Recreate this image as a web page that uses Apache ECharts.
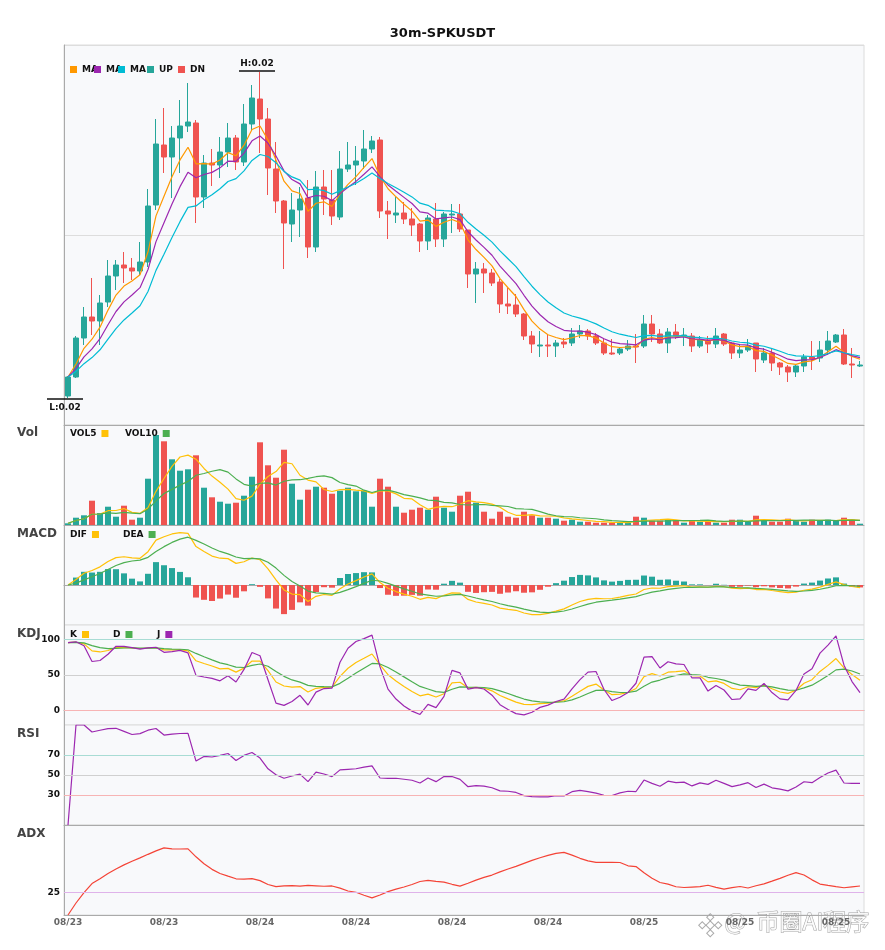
<!DOCTYPE html>
<html>
<head>
<meta charset="utf-8">
<script src="https://cdn.jsdelivr.net/npm/echarts@6.0.0/dist/echarts.min.js"></script>
<style>
  html, body { margin: 0; padding: 0; background: #fff; }
  #chart { width: 885px; height: 950px; }
</style>
</head>
<body>
<div id="chart"></div>
<script>
// 30m candles, 08/23 12:00 -> 08/25 13:30
const times = [
  '08/23 12:00','08/23 12:30','08/23 13:00','08/23 13:30','08/23 14:00','08/23 14:30','08/23 15:00','08/23 15:30',
  '08/23 16:00','08/23 16:30','08/23 17:00','08/23 17:30','08/23 18:00','08/23 18:30','08/23 19:00','08/23 19:30',
  '08/23 20:00','08/23 20:30','08/23 21:00','08/23 21:30','08/23 22:00','08/23 22:30','08/23 23:00','08/23 23:30',
  '08/24 00:00','08/24 00:30','08/24 01:00','08/24 01:30','08/24 02:00','08/24 02:30','08/24 03:00','08/24 03:30',
  '08/24 04:00','08/24 04:30','08/24 05:00','08/24 05:30','08/24 06:00','08/24 06:30','08/24 07:00','08/24 07:30',
  '08/24 08:00','08/24 08:30','08/24 09:00','08/24 09:30','08/24 10:00','08/24 10:30','08/24 11:00','08/24 11:30',
  '08/24 12:00','08/24 12:30','08/24 13:00','08/24 13:30','08/24 14:00','08/24 14:30','08/24 15:00','08/24 15:30',
  '08/24 16:00','08/24 16:30','08/24 17:00','08/24 17:30','08/24 18:00','08/24 18:30','08/24 19:00','08/24 19:30',
  '08/24 20:00','08/24 20:30','08/24 21:00','08/24 21:30','08/24 22:00','08/24 22:30','08/24 23:00','08/24 23:30',
  '08/25 00:00','08/25 00:30','08/25 01:00','08/25 01:30','08/25 02:00','08/25 02:30','08/25 03:00','08/25 03:30',
  '08/25 04:00','08/25 04:30','08/25 05:00','08/25 05:30','08/25 06:00','08/25 06:30','08/25 07:00','08/25 07:30',
  '08/25 08:00','08/25 08:30','08/25 09:00','08/25 09:30','08/25 10:00','08/25 10:30','08/25 11:00','08/25 11:30',
  '08/25 12:00','08/25 12:30','08/25 13:00','08/25 13:30'
];

const opens = [
  0.01739,0.01758,0.01797,0.01818,0.01814,0.01833,0.01859,0.01870,0.01867,0.01864,
  0.01873,0.01930,0.01990,0.01978,0.01997,0.02009,0.02012,0.01938,0.01972,0.01970,
  0.01983,0.01997,0.01973,0.02011,0.02036,0.02016,0.01966,0.01934,0.01911,0.01925,
  0.01937,0.01888,0.01948,0.01935,0.01918,0.01966,0.01970,0.01974,0.01986,0.01995,
  0.01924,0.01920,0.01922,0.01916,0.01911,0.01894,0.01916,0.01896,0.01920,0.01921,
  0.01905,0.01861,0.01866,0.01862,0.01853,0.01831,0.01830,0.01821,0.01799,0.01789,
  0.01790,0.01789,0.01793,0.01792,0.01801,0.01804,0.01799,0.01792,0.01782,0.01782,
  0.01786,0.01789,0.01789,0.01811,0.01801,0.01792,0.01803,0.01799,0.01799,0.01789,
  0.01795,0.01791,0.01801,0.01792,0.01782,0.01785,0.01792,0.01775,0.01782,0.01772,
  0.01768,0.01763,0.01769,0.01778,0.01777,0.01785,0.01793,0.01800,0.01771,0.01769
];
const closes = [
  0.01758,0.01797,0.01818,0.01814,0.01832,0.01859,0.01870,0.01867,0.01864,0.01873,
  0.01929,0.01991,0.01978,0.01997,0.02009,0.02013,0.01938,0.01972,0.01970,0.01983,
  0.01997,0.01973,0.02011,0.02037,0.02016,0.01967,0.01934,0.01912,0.01925,0.01936,
  0.01888,0.01948,0.01936,0.01919,0.01966,0.01970,0.01974,0.01986,0.01994,0.01924,
  0.01921,0.01922,0.01916,0.01910,0.01894,0.01917,0.01896,0.01921,0.01921,0.01906,
  0.01861,0.01866,0.01862,0.01852,0.01831,0.01829,0.01821,0.01799,0.01791,0.01790,
  0.01789,0.01792,0.01791,0.01801,0.01804,0.01799,0.01792,0.01782,0.01781,0.01786,
  0.01789,0.01788,0.01811,0.01801,0.01792,0.01803,0.01799,0.01800,0.01789,0.01795,
  0.01791,0.01799,0.01791,0.01782,0.01785,0.01789,0.01776,0.01782,0.01772,0.01768,
  0.01763,0.01769,0.01778,0.01776,0.01785,0.01794,0.01800,0.01771,0.01770,0.01770
];
const lows = [
  0.01737,0.01757,0.01790,0.01800,0.01790,0.01828,0.01845,0.01852,0.01855,0.01860,
  0.01868,0.01925,0.01962,0.01937,0.01962,0.02003,0.01912,0.01927,0.01949,0.01957,
  0.01968,0.01965,0.01969,0.02005,0.01982,0.01940,0.01922,0.01866,0.01893,0.01898,
  0.01877,0.01883,0.01920,0.01910,0.01915,0.01963,0.01950,0.01966,0.01982,0.01917,
  0.01896,0.01912,0.01911,0.01899,0.01883,0.01885,0.01888,0.01888,0.01902,0.01903,
  0.01847,0.01832,0.01842,0.01849,0.01822,0.01821,0.01818,0.01795,0.01782,0.01778,
  0.01778,0.01778,0.01787,0.01789,0.01797,0.01795,0.01790,0.01780,0.01780,0.01780,
  0.01784,0.01772,0.01787,0.01793,0.01791,0.01782,0.01796,0.01789,0.01783,0.01787,
  0.01782,0.01787,0.01789,0.01776,0.01777,0.01783,0.01763,0.01772,0.01764,0.01760,
  0.01753,0.01758,0.01763,0.01765,0.01773,0.01780,0.01792,0.01770,0.01757,0.01768
];
const highs = [
  0.01759,0.01799,0.01828,0.01857,0.01840,0.01875,0.01875,0.01883,0.01877,0.01893,
  0.01946,0.02016,0.02027,0.02009,0.02035,0.02052,0.02015,0.01980,0.01986,0.01998,
  0.02012,0.02000,0.02031,0.02050,0.02063,0.02027,0.01993,0.01935,0.01942,0.01948,
  0.01955,0.01964,0.01965,0.01965,0.01984,0.01993,0.01989,0.02005,0.01999,0.01998,
  0.01934,0.01938,0.01933,0.01927,0.01912,0.01920,0.01932,0.01923,0.01931,0.01931,
  0.01905,0.01873,0.01872,0.01866,0.01856,0.01847,0.01841,0.01822,0.01804,0.01804,
  0.01800,0.01795,0.01797,0.01807,0.01810,0.01806,0.01802,0.01796,0.01796,0.01788,
  0.01795,0.01801,0.01820,0.01820,0.01806,0.01807,0.01811,0.01807,0.01802,0.01799,
  0.01799,0.01807,0.01802,0.01793,0.01790,0.01796,0.01792,0.01787,0.01787,0.01773,
  0.01770,0.01770,0.01781,0.01794,0.01794,0.01804,0.01801,0.01806,0.01787,0.01774
];
// volume, thousands
const volumes = [
  170,730,970,2430,1200,1830,830,1930,530,730,
  4630,9000,8370,6570,5430,5570,6970,3730,2770,2330,
  2130,2230,2930,4830,8270,5970,4730,7530,4130,2530,
  3530,3830,3730,3130,3430,3730,3370,3430,1830,4630,
  3830,1830,1230,1530,1730,1530,2830,1730,1330,2930,
  3330,2230,1330,630,1330,830,730,1330,970,730,
  730,630,430,530,330,330,230,230,230,230,
  230,830,730,430,430,530,430,230,430,330,
  430,230,230,530,530,330,930,430,330,330,
  630,430,330,530,430,530,430,730,530,130
];

const UP = '#26a69a';
const DN = '#ef5350';
const YEL = '#ffc107';
const GRN = '#4caf50';
const PUR = '#9c27b0';

function ema(arr, n) {
  const a = 2 / (n + 1);
  const out = [];
  let e = arr[0];
  for (let i = 0; i < arr.length; i++) {
    if (i > 0) e = e + a * (arr[i] - e);
    out.push(e);
  }
  return out;
}

function sma(arr, n) {
  const out = [];
  for (let i = 0; i < arr.length; i++) {
    const s = Math.max(0, i - n + 1);
    let sum = 0;
    for (let j = s; j <= i; j++) sum += arr[j];
    out.push(sum / (i - s + 1));
  }
  return out;
}

function calcKDJ(n) {
  const K = [], D = [], J = [];
  let k, d;
  for (let i = 0; i < closes.length; i++) {
    const s = Math.max(0, i - n + 1);
    let lo = Infinity, hi = -Infinity;
    for (let j = s; j <= i; j++) {
      lo = Math.min(lo, lows[j]);
      hi = Math.max(hi, highs[j]);
    }
    const rsv = hi === lo ? 50 : (closes[i] - lo) / (hi - lo) * 100;
    if (i === 0) { k = rsv; d = rsv; }
    else { k = (2 * k + rsv) / 3; d = (2 * d + k) / 3; }
    K.push(k); D.push(d); J.push(3 * k - 2 * d);
  }
  return { K, D, J };
}

function calcRSI(n) {
  const out = [0];
  let g = 0, l = 0;
  for (let i = 1; i < closes.length; i++) {
    const diff = closes[i] - closes[i - 1];
    g = (Math.max(diff, 0) + (n - 1) * g) / n;
    l = (Math.max(-diff, 0) + (n - 1) * l) / n;
    out.push(g + l === 0 ? 0 : 100 * g / (g + l));
  }
  return out;
}

function calcADX(n) {
  const a = 2 / (n + 1);
  const out = [0];
  let sTR = highs[0] - lows[0], sP = 0, sM = 0, adx = 0;
  for (let i = 1; i < closes.length; i++) {
    const tr = Math.max(highs[i] - lows[i], Math.abs(highs[i] - closes[i - 1]), Math.abs(lows[i] - closes[i - 1]));
    const up = highs[i] - highs[i - 1];
    const dn = lows[i - 1] - lows[i];
    const pdm = up > dn && up > 0 ? up : 0;
    const mdm = dn > up && dn > 0 ? dn : 0;
    sTR += a * (tr - sTR);
    sP += a * (pdm - sP);
    sM += a * (mdm - sM);
    const pdi = sP / sTR, mdi = sM / sTR;
    const dx = pdi + mdi === 0 ? 0 : Math.abs(pdi - mdi) / (pdi + mdi) * 100;
    adx += a * (dx - adx);
    out.push(adx);
  }
  return out;
}

const candles = times.map((t, i) => [opens[i], closes[i], lows[i], highs[i]]);
const ma5 = ema(closes, 5);
const ma8 = ema(closes, 8);
const ma13 = ema(closes, 13);
const vol5 = sma(volumes, 5);
const vol10 = sma(volumes, 10);
// MACD 6/13/5
const fast = ema(closes, 6);
const slow = ema(closes, 13);
const dif = fast.map((v, i) => v - slow[i]);
const dea = ema(dif, 5);
const hist = dif.map((v, i) => 2 * (v - dea[i]));
const kdj = calcKDJ(9);
const rsi = calcRSI(14);
const adx = calcADX(14);

const hiVal = Math.max(...highs), hiIdx = highs.indexOf(hiVal);
const loVal = Math.min(...lows), loIdx = lows.indexOf(loVal);

const font = 'DejaVu Sans';
const gridTops = [45, 425, 525, 625, 725, 825];
const gridHeights = [380, 100, 100, 100, 100, 90];

const grids = gridTops.map((t, i) => ({
  left: 64, right: 21, top: t, height: gridHeights[i],
  show: true, backgroundColor: '#f8f9fb', borderColor: '#dcdcdc', borderWidth: 1
}));

const xAxes = gridTops.map((t, i) => ({
  type: 'category', gridIndex: i, data: times, boundaryGap: true,
  axisLine: { show: true, lineStyle: { color: '#aaa' } },
  axisTick: { show: false },
  splitLine: { show: false },
  axisLabel: {
    show: i === 5, interval: 11, margin: 3,
    fontSize: 9, fontWeight: 'bold', color: '#666', fontFamily: font,
    formatter: v => v.slice(0, 5)
  }
}));

const yBase = { axisLabel: { show: false }, axisTick: { show: false }, splitLine: { show: false },
  axisLine: { show: true, lineStyle: { color: '#aaa' } } };
const yAxes = [
  Object.assign({}, yBase, { type: 'value', gridIndex: 0, min: 0.0171, max: 0.0209, interval: 0.0019,
    splitLine: { show: true, lineStyle: { color: '#dddddd' } } }),
  Object.assign({}, yBase, { type: 'value', gridIndex: 1, min: 0, max: 10000 }),
  Object.assign({}, yBase, { type: 'value', gridIndex: 2 }),
  Object.assign({}, yBase, { type: 'value', gridIndex: 3, min: -20, max: 120 }),
  Object.assign({}, yBase, { type: 'value', gridIndex: 4, min: 0, max: 100 }),
  Object.assign({}, yBase, { type: 'value', gridIndex: 5, min: 0, max: 100 })
];

const legendText = { fontSize: 9, fontWeight: 'bold', color: '#111', fontFamily: font };
let legendZ = 10;
function leg(name, left, top, align, width, clip) {
  const ts = Object.assign({}, legendText);
  if (width) ts.width = width;
  if (clip) { ts.overflow = 'truncate'; ts.ellipsis = ''; }
  legendZ += 1;
  return { data: [name], left: left, top: top, align: align, icon: 'rect', itemWidth: 7, itemHeight: 7,
    itemGap: 0, selectedMode: false, padding: 0, z: legendZ, textStyle: ts };
}

function lvl(v, color) {
  return { yAxis: v, lineStyle: { color: color, type: 'solid', width: 1 } };
}
const lvlLabel = { position: 'start', formatter: '{c}', fontSize: 9, fontWeight: 'bold', color: '#111',
  fontFamily: font, distance: 4 };

function line(name, data, color, xi) {
  return { name: name, type: 'line', data: data, xAxisIndex: xi, yAxisIndex: xi, symbol: 'none',
    showSymbol: false, lineStyle: { color: color, width: 1.2 }, itemStyle: { color: color }, z: 3 };
}

const panelTitle = (text, top) => ({ text: text, left: 17, top: top, padding: 0,
  textStyle: { fontSize: 12, fontWeight: 'bold', color: '#444', fontFamily: font } });

const option = {
  animation: false,
  backgroundColor: '#fff',
  textStyle: { fontFamily: font },
  title: [
    { text: '30m-SPKUSDT', left: 'center', top: 27, padding: 0,
      textStyle: { fontSize: 13, fontWeight: 'bold', color: '#111', fontFamily: font } },
    panelTitle('Vol', 427),
    panelTitle('MACD', 528),
    panelTitle('KDJ', 628),
    panelTitle('RSI', 728),
    panelTitle('ADX', 828)
  ],
  legend: [
    leg('MA5', 70, 65, 'left', 17, true), leg('MA8', 94, 65, 'left', 17, true), leg('MA13', 118, 65, 'left', 17, true),
    leg('UP', 147, 65, 'left'), leg('DN', 178, 65, 'left'),
    leg('VOL5', 70, 429, 'right', 26), leg('VOL10', 125, 429, 'right', 33),
    leg('DIF', 70, 530, 'right', 22), leg('DEA', 123, 530, 'right', 25),
    leg('K', 70, 630, 'right', 12), leg('D', 113, 630, 'right', 13), leg('J', 157, 630, 'right', 13)
  ],
  grid: grids,
  xAxis: xAxes,
  yAxis: yAxes,
  series: [
    {
      name: 'SPKUSDT', type: 'candlestick', data: candles, xAxisIndex: 0, yAxisIndex: 0, barWidth: 6,
      itemStyle: { color: UP, color0: DN, borderColor: UP, borderColor0: DN, borderWidth: 1 },
      markPoint: {
        symbol: 'rect', symbolSize: [36, 1.5], silent: true, animation: false,
        itemStyle: { color: '#111' },
        label: { show: true, fontSize: 9, fontWeight: 'bold', color: '#111', fontFamily: font },
        data: [
          { coord: [hiIdx, hiVal], symbolOffset: [-3, -1],
            label: { position: 'top', distance: 2, formatter: 'H:' + hiVal.toFixed(2) } },
          { coord: [loIdx, loVal], symbolOffset: [-3, 1],
            label: { position: 'bottom', distance: 3, formatter: 'L:' + loVal.toFixed(2) } }
        ]
      }
    },
    line('MA5', ma5, '#ff9800', 0),
    line('MA8', ma8, PUR, 0),
    line('MA13', ma13, '#00bcd4', 0),
    { name: 'UP', type: 'line', data: [], xAxisIndex: 0, yAxisIndex: 0, itemStyle: { color: UP }, lineStyle: { color: UP } },
    { name: 'DN', type: 'line', data: [], xAxisIndex: 0, yAxisIndex: 0, itemStyle: { color: DN }, lineStyle: { color: DN } },
    {
      name: 'Vol', type: 'bar', xAxisIndex: 1, yAxisIndex: 1, barWidth: 6,
      data: volumes.map((v, i) => ({ value: v, itemStyle: { color: closes[i] >= opens[i] ? UP : DN } }))
    },
    line('VOL5', vol5, YEL, 1),
    line('VOL10', vol10, GRN, 1),
    {
      name: 'MACD', type: 'bar', xAxisIndex: 2, yAxisIndex: 2, barWidth: 6,
      data: hist.map(v => ({ value: v, itemStyle: { color: v >= 0 ? UP : DN } }))
    },
    line('DIF', dif, YEL, 2),
    line('DEA', dea, GRN, 2),
    Object.assign(line('K', kdj.K, YEL, 3), {
      markLine: { symbol: 'none', silent: true, animation: false, label: lvlLabel,
        data: [lvl(100, '#a8dcd4'), lvl(50, '#d0d0d0'), lvl(0, '#f7b4b4')] }
    }),
    line('D', kdj.D, GRN, 3),
    line('J', kdj.J, PUR, 3),
    Object.assign(line('RSI', rsi, PUR, 4), {
      markLine: { symbol: 'none', silent: true, animation: false, label: lvlLabel,
        data: [lvl(70, '#a8dcd4'), lvl(50, '#d0d0d0'), lvl(30, '#f7b4b4')] }
    }),
    Object.assign(line('ADX', adx, '#f44336', 5), {
      markLine: { symbol: 'none', silent: true, animation: false, label: lvlLabel,
        data: [lvl(25, '#dfb3ea')] }
    })
  ],
  graphic: [
    {
      type: 'group', left: 698, top: 913, silent: true,
      children: [
        { type: 'rect', shape: { x: -3, y: -3, width: 6, height: 6 }, x: 11, y: 11, rotation: Math.PI / 4,
          style: { fill: 'rgba(255,255,255,0.85)', stroke: 'rgba(150,150,150,0.8)', lineWidth: 1 } },
        { type: 'rect', shape: { x: -2.5, y: -2.5, width: 5, height: 5 }, x: 3, y: 11, rotation: Math.PI / 4,
          style: { fill: 'rgba(255,255,255,0.85)', stroke: 'rgba(150,150,150,0.8)', lineWidth: 1 } },
        { type: 'rect', shape: { x: -2.5, y: -2.5, width: 5, height: 5 }, x: 19, y: 11, rotation: Math.PI / 4,
          style: { fill: 'rgba(255,255,255,0.85)', stroke: 'rgba(150,150,150,0.8)', lineWidth: 1 } },
        { type: 'rect', shape: { x: -2.5, y: -2.5, width: 5, height: 5 }, x: 11, y: 3, rotation: Math.PI / 4,
          style: { fill: 'rgba(255,255,255,0.85)', stroke: 'rgba(150,150,150,0.8)', lineWidth: 1 } },
        { type: 'rect', shape: { x: -2.5, y: -2.5, width: 5, height: 5 }, x: 11, y: 19, rotation: Math.PI / 4,
          style: { fill: 'rgba(255,255,255,0.85)', stroke: 'rgba(150,150,150,0.8)', lineWidth: 1 } }
      ]
    },
    {
      type: 'text', left: 724, top: 909, silent: true,
      style: { text: '@  币圈AI程序', font: '23px "Noto Sans CJK SC"',
        fill: 'rgba(255,255,255,0.85)', stroke: 'rgba(140,140,140,0.8)', lineWidth: 1 }
    }
  ]
};

const myChart = echarts.init(document.getElementById('chart'));
myChart.setOption(option);
</script>
</body>
</html>
